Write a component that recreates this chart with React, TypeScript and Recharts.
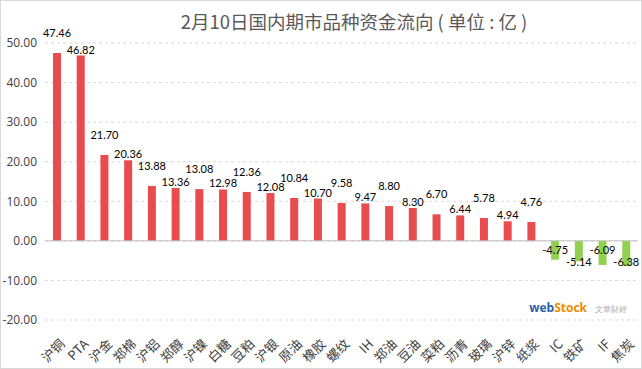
import { Bar, BarChart, CartesianGrid, Cell, LabelList, ReferenceLine, XAxis, YAxis } from "recharts";

const categories = [
  "沪铜", "PTA", "沪金", "郑棉", "沪铝", "郑醇", "沪镍", "白糖", "豆粕", "沪银", "原油", "橡胶", "螺纹",
  "IH", "郑油", "豆油", "菜粕", "沥青", "玻璃", "沪锌", "纸浆", "IC", "铁矿", "IF", "焦炭",
];
const flows = [
  47.46, 46.82, 21.7, 20.36, 13.88, 13.36, 13.08, 12.98, 12.36, 12.08, 10.84, 10.7, 9.58,
  9.47, 8.8, 8.3, 6.7, 6.44, 5.78, 4.94, 4.76, -4.75, -5.14, -6.09, -6.38,
];
const yTicks = [-20, -10, 0, 10, 20, 30, 40, 50];
const title = "2月10日国内期市品种资金流向 ( 单位 : 亿 )";

const FONT = "'Noto Sans CJK SC', 'Open Sans', sans-serif";
const NUM_FONT = "Lato, sans-serif";

const rows = categories.map((name, i) => ({ name, value: flows[i] }));

function AxisTick(props: any) {
  const { x, y, payload } = props;
  const ax = x + 5;
  const ay = y + 13;
  return (
    <text
      x={ax}
      y={ay}
      transform={`rotate(-45 ${ax} ${ay})`}
      textAnchor="end"
      dominantBaseline="central"
      fontSize={13}
      fill="#404040"
      fontFamily={FONT}
    >
      {payload.value}
    </text>
  );
}

// labels alternate in height so neighbours don't collide (like the staggered Excel labels)
function ValueLabel(props: any) {
  const { x, y, width, height, value, index } = props;
  const neg = value < 0;
  const even = index % 2 === 0;
  const cx = x + width / 2;
  const ty = neg ? y + height + (even ? 25 : 13) : y + (even ? -16 : -2);
  return (
    <text x={cx} y={ty} textAnchor="middle" fontSize={11} fill="#000" fontFamily={NUM_FONT}>
      {value.toFixed(2)}
    </text>
  );
}

export default function App() {
  return (
    <div
      style={{
        position: "fixed",
        left: 0,
        top: 0,
        width: 640,
        height: 367,
        border: "1px solid #d9d9d9",
        background: "#fff",
        fontFamily: FONT,
      }}
    >
      <div
        style={{
          position: "absolute",
          top: 7,
          left: 33,
          width: "100%",
          textAlign: "center",
          fontSize: 18.5,
          color: "#595959",
        }}
      >
        {title}
      </div>
      <div
        style={{
          position: "absolute",
          right: 14,
          top: 298,
          fontSize: 12,
          fontWeight: 700,
          fontFamily: "'Open Sans', sans-serif",
        }}
      >
        <span style={{ color: "#2e5fa8" }}>web</span>
        <span style={{ color: "#f08a00" }}>Stock</span>
        <span style={{ color: "#aaa", fontSize: 8, fontWeight: 400, marginLeft: 8 }}>文華財經</span>
      </div>
      <BarChart width={640} height={368} data={rows} margin={{ top: 42, right: 3, bottom: 0, left: -1 }}>
        <CartesianGrid vertical={false} stroke="#d9d9d9" strokeDasharray="3 3" />
        <XAxis
          dataKey="name"
          axisLine={false}
          tickLine={false}
          interval={0}
          height={49}
          tick={<AxisTick />}
        />
        <YAxis
          domain={[-20, 50]}
          ticks={yTicks}
          width={45}
          axisLine={false}
          tickLine={false}
          tickFormatter={(v: number) => v.toFixed(2)}
          tick={{ fontSize: 12, fill: "#404040", fontFamily: "'Open Sans', sans-serif" }}
        />
        <ReferenceLine y={0} stroke="#bfbfbf" />
        <Bar dataKey="value" barSize={8} isAnimationActive={false}>
          {rows.map((r) => (
            <Cell key={r.name} fill={r.value < 0 ? "#92d050" : "#e84c4f"} />
          ))}
          <LabelList dataKey="value" content={<ValueLabel />} />
        </Bar>
      </BarChart>
    </div>
  );
}
